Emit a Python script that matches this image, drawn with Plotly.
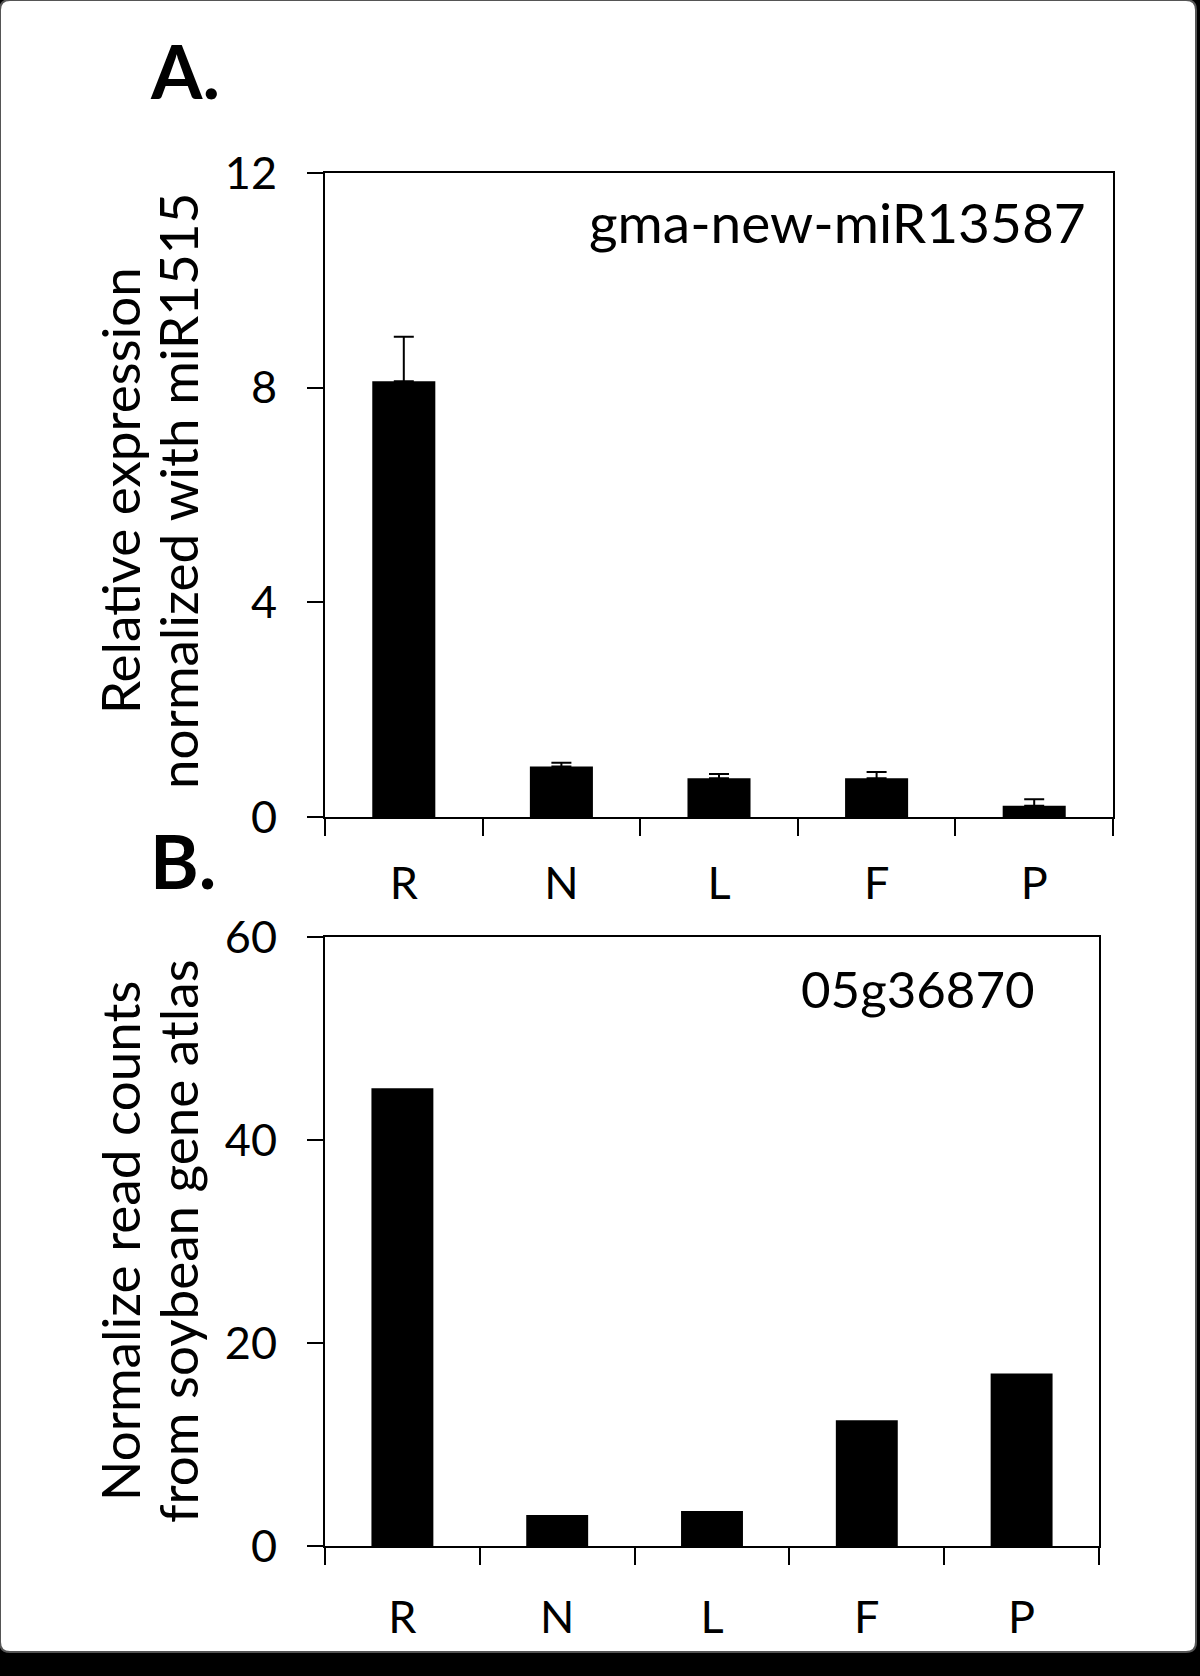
import plotly.graph_objects as go

# Tissues: root, nodule, leaf, flower, pod
tissues = ['R', 'N', 'L', 'F', 'P']

# Panel A: qRT-PCR of gma-new-miR13587 (normalized with miR1515)
mir_expr = [8.12, 0.94, 0.72, 0.72, 0.21]
mir_err = [0.83, 0.07, 0.08, 0.12, 0.12]
yticks_a = [0, 4, 8, 12]

# Panel B: read counts of target 05g36870 from soybean gene atlas
gene_counts = [45.1, 3.05, 3.45, 12.4, 17.0]
yticks_b = [0, 20, 40, 60]

W, H = 1200, 1676
FONT = 'Lato'


def px_x(x):
    return x / W


def px_y(y):
    return 1 - y / H


fig = go.Figure()

fig.add_trace(go.Bar(
    x=tissues, y=mir_expr,
    marker=dict(color='black', line=dict(width=0)),
    width=0.4,
    error_y=dict(type='data', array=mir_err, arrayminus=[0] * len(mir_err),
                 symmetric=False, color='black', thickness=2, width=10),
    xaxis='x', yaxis='y', showlegend=False
))

fig.add_trace(go.Bar(
    x=tissues, y=gene_counts,
    marker=dict(color='black', line=dict(width=0)),
    width=0.4,
    xaxis='x2', yaxis='y2', showlegend=False
))

axis_common = dict(
    showline=True, linecolor='black', linewidth=2, mirror=True,
    showgrid=False, zeroline=False, automargin=False,
    ticks='outside', tickcolor='black', tickwidth=2,
    tickfont=dict(family=FONT, size=45, color='black'),
)

fig.update_layout(
    template='none',
    width=W, height=H,
    margin=dict(l=0, r=0, t=0, b=0, pad=0),
    paper_bgcolor='black',
    plot_bgcolor='white',
    font=dict(family=FONT, color='black'),
    xaxis=dict(axis_common, domain=[px_x(325), px_x(1113)], anchor='y',
               tickson='boundaries', ticklen=17, ticklabelstandoff=26,
               range=[-0.5, 4.5]),
    yaxis=dict(axis_common, domain=[px_y(817), px_y(173)], anchor='x',
               range=[0, 12], tickvals=yticks_a, ticklen=16,
               ticklabelstandoff=21),
    xaxis2=dict(axis_common, domain=[px_x(325), px_x(1099)], anchor='y2',
                tickson='boundaries', ticklen=17, ticklabelstandoff=31,
                range=[-0.5, 4.5]),
    yaxis2=dict(axis_common, domain=[px_y(1546), px_y(937)], anchor='x2',
                range=[0, 60], tickvals=yticks_b, ticklen=16,
                ticklabelstandoff=21),
)

# white page with rounded corners over the black background
r = 10
x0, y0, x1, y1 = 0, 0, 1196, 1652
path = (f'M {px_x(x0 + r)},{px_y(y0)} L {px_x(x1 - r)},{px_y(y0)} '
        f'Q {px_x(x1)},{px_y(y0)} {px_x(x1)},{px_y(y0 + r)} '
        f'L {px_x(x1)},{px_y(y1 - r)} Q {px_x(x1)},{px_y(y1)} {px_x(x1 - r)},{px_y(y1)} '
        f'L {px_x(x0 + r)},{px_y(y1)} Q {px_x(x0)},{px_y(y1)} {px_x(x0)},{px_y(y1 - r)} '
        f'L {px_x(x0)},{px_y(y0 + r)} Q {px_x(x0)},{px_y(y0)} {px_x(x0 + r)},{px_y(y0)} Z')
fig.add_shape(type='path', path=path, xref='paper', yref='paper',
              fillcolor='white', line=dict(color='#555555', width=2), layer='below')

# panel letters
fig.add_annotation(text='<b>A.</b>', x=px_x(148), y=px_y(70), xref='paper', yref='paper',
                   xanchor='left', yanchor='middle', showarrow=False,
                   font=dict(family=FONT, size=74, color='black'))
fig.add_annotation(text='<b>B.</b>', x=px_x(148), y=px_y(860), xref='paper', yref='paper',
                   xanchor='left', yanchor='middle', showarrow=False,
                   font=dict(family=FONT, size=74, color='black'))

# labels inside the plots
fig.add_annotation(text='gma-new-miR13587', x=px_x(1088), y=px_y(222), xref='paper', yref='paper',
                   xanchor='right', yanchor='middle', showarrow=False,
                   font=dict(family=FONT, size=55, color='black'))
fig.add_annotation(text='05g36870', x=px_x(1037), y=px_y(988), xref='paper', yref='paper',
                   xanchor='right', yanchor='middle', showarrow=False,
                   font=dict(family=FONT, size=51, color='black'))

# y axis titles, one annotation per line
titles = [
    ('Relative expression', 119, 491),
    ('normalized with miR1515', 177, 491),
    ('Normalize read counts', 119, 1241),
    ('from soybean gene atlas', 177, 1241),
]
for text, tx, ty in titles:
    fig.add_annotation(text=text, x=px_x(tx), y=px_y(ty), xref='paper', yref='paper',
                       xanchor='center', yanchor='middle', textangle=-90, showarrow=False,
                       font=dict(family=FONT, size=53, color='black'))

# drop the default page margin so the figure sits at the window corner
fig.write_html("out.html", config={'displayModeBar': False},
               post_script="document.body.style.margin='0';")
